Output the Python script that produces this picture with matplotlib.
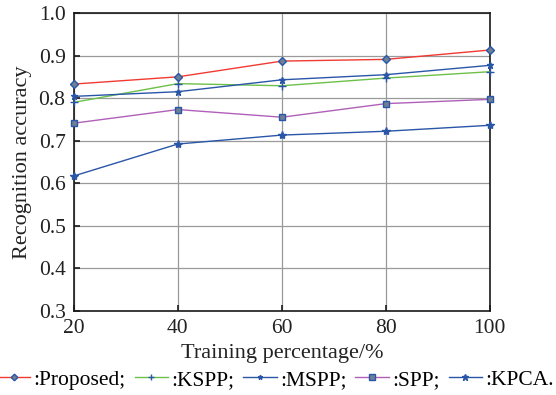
import matplotlib
matplotlib.use("Agg")
import matplotlib.pyplot as plt

plt.rcParams['font.family'] = ['Liberation Serif', 'DejaVu Serif']
plt.rcParams['mathtext.fontset'] = 'stix'

train_pct = [20, 40, 60, 80, 100]
proposed = [0.833, 0.850, 0.887, 0.891, 0.913]
kspp = [0.790, 0.834, 0.829, 0.847, 0.862]
mspp = [0.804, 0.815, 0.843, 0.855, 0.877]
spp = [0.741, 0.773, 0.755, 0.787, 0.797]
kpca = [0.617, 0.692, 0.713, 0.722, 0.736]

labels = [":Proposed;", ":KSPP;", ":MSPP;", ":SPP;", ":KPCA."]
series = [proposed, kspp, mspp, spp, kpca]
colors = ["#f03a32", "#6cc04a", "#2a56a8", "#b060b8", "#2a56a8"]
markers = ["D", "+", "*", "s", "*"]
msizes = [4.5, 6, 4.5, 5, 6]

fig = plt.figure(figsize=(5.56, 3.95), dpi=100)
ax = fig.add_axes([0.133, 0.2134, 0.748, 0.7536])

mk_edge = "#2a56a8"
mk_face = "#6f7f94"
for vals, lab, c, m, ms in zip(series, labels, colors, markers, msizes):
    ax.plot(train_pct, vals, color=c, lw=1.0, marker=m, markersize=ms,
            markeredgecolor=mk_edge, markerfacecolor=mk_face if m in ("D", "s") else mk_edge,
            markeredgewidth=1.0, label=lab, clip_on=False, zorder=3)

ax.set_xlim(20, 100)
ax.set_ylim(0.3, 1.0)
ax.set_xticks(train_pct)
ax.set_yticks([0.3, 0.4, 0.5, 0.6, 0.7, 0.8, 0.9, 1.0])
ax.set_yticklabels(["0.3", "0.4", "0.5", "0.6", "0.7", "0.8", "0.9", "1.0"])
ax.grid(True, color="#9a9a9a", lw=0.9)
ax.set_axisbelow(True)
for s in ax.spines.values():
    s.set_color("#1a1a1a")
    s.set_linewidth(1.2)
ax.tick_params(direction="in", length=4, width=1.2, labelsize=15.5, colors="#1a1a1a",
               labelcolor="#222222")
ax.tick_params(axis="y", pad=6)
ax.tick_params(axis="x", pad=6)
ax.set_xlabel("Training percentage/%", fontsize=16, labelpad=4, color="#222222")
ax.set_ylabel("Recognition accuracy", fontsize=16, labelpad=5, color="#222222")

fig.legend(loc="center", bbox_to_anchor=(0.495, 0.038), ncol=5, frameon=False,
           fontsize=15.5, handlelength=1.55, handletextpad=0.15, columnspacing=0.42,
           borderaxespad=0, borderpad=0, markerscale=0.75)

fig.savefig("out.png", dpi=100)
